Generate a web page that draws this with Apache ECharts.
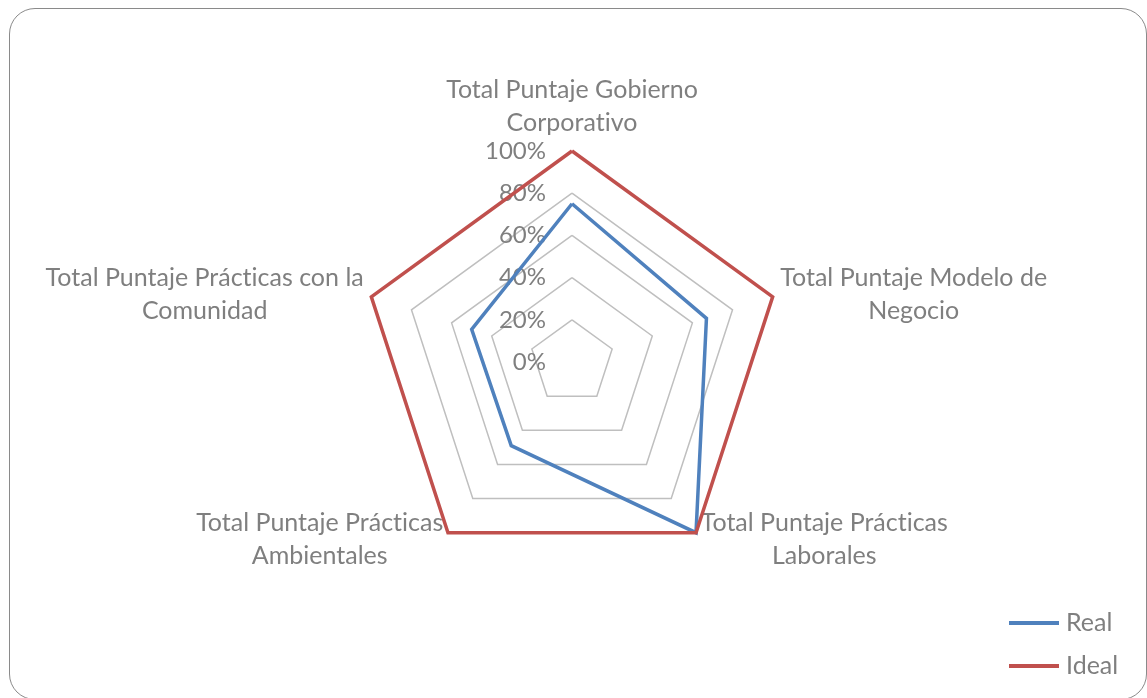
<!DOCTYPE html>
<html>
<head>
<meta charset="utf-8">
<script src="https://cdn.jsdelivr.net/npm/echarts@6/dist/echarts.min.js"></script>
<style>
  html, body { margin: 0; padding: 0; background: #fff; }
  #frame { position: absolute; left: 9px; top: 8px; width: 1138px; height: 692px;
           border: 1.5px solid #8a8a8a; border-radius: 26px; box-sizing: border-box; }
  #chart { position: absolute; left: 0; top: 0; width: 1147px; height: 698px; }
</style>
</head>
<body>
<div id="frame"></div>
<div id="chart"></div>
<script>
// Categories in the workbook's (clockwise) order
const categories = [
  'Total Puntaje Gobierno\nCorporativo',
  'Total Puntaje Modelo de\nNegocio',
  'Total Puntaje Prácticas\nLaborales',
  'Total Puntaje Prácticas\nAmbientales',
  'Total Puntaje Prácticas con la\nComunidad'
];
const realValues  = [75, 67, 100, 49, 50];
const idealValues = [100, 100, 100, 100, 100];
const tickLabels  = ['0%', '20%', '40%', '60%', '80%', '100%'];
const seriesNames = ['Real', 'Ideal'];

// ECharts draws radar indicators counter-clockwise; reorder so the
// picture runs clockwise like the original.
const order = [0, 4, 3, 2, 1];
const pick = arr => order.map(i => arr[i]);

const textColor = '#7f7f7f';
const fontFamily = 'Lato, "Open Sans", sans-serif';
// avoid the "ti" ligature of Lato (Calibri-like look)
const noLig = s => s.replace(/ti/g, 't\u200Ci');

const indicator = pick(categories).map((name, k) => {
  const ind = { name: name, min: 0, max: 100 };
  if (k === 0) {
    ind.axisLabel = {
      show: true, margin: 26, fontSize: 24, color: textColor, fontFamily: fontFamily,
      formatter: v => tickLabels[Math.round(v / 20)]
    };
  }
  return ind;
});

const chart = echarts.init(document.getElementById('chart'));
chart.setOption({
  animation: false,
  legend: {
    data: seriesNames,
    orient: 'vertical',
    left: 1004,
    top: 603,
    itemWidth: 54,
    itemHeight: 4,
    itemGap: 13,
    icon: 'path://M0 0 L100 0 L100 8 L0 8 Z',
    textStyle: { fontSize: 25, color: textColor, fontFamily: fontFamily, lineHeight: 30 }
  },
  radar: {
    center: [572, 362],
    radius: 211,
    startAngle: 90,
    splitNumber: 5,
    shape: 'polygon',
    nameGap: 8,
    axisName: {
      color: textColor,
      fontSize: 25,
      fontFamily: fontFamily,
      lineHeight: 33,
      formatter: name => name.split('\n').map(l => '{c|' + noLig(l) + '}').join('\n'),
      rich: {
        c: { align: 'center', fontSize: 25, color: textColor, fontFamily: fontFamily, lineHeight: 33 }
      }
    },
    axisLine: { show: false },
    axisTick: { show: false },
    axisLabel: { show: false },
    splitArea: { show: false },
    splitLine: { lineStyle: { color: '#bfbfbf', width: 1.5 } },
    indicator: indicator
  },
  series: [{
    type: 'radar',
    symbol: 'none',
    data: [
      { name: seriesNames[0], value: pick(realValues),
        itemStyle: { color: '#4f81bd' },
        lineStyle: { color: '#4f81bd', width: 3.5, join: 'miter' } },
      { name: seriesNames[1], value: pick(idealValues),
        itemStyle: { color: '#c0504d' },
        lineStyle: { color: '#c0504d', width: 3.5, join: 'miter' } }
    ]
  }]
});
</script>
</body>
</html>
